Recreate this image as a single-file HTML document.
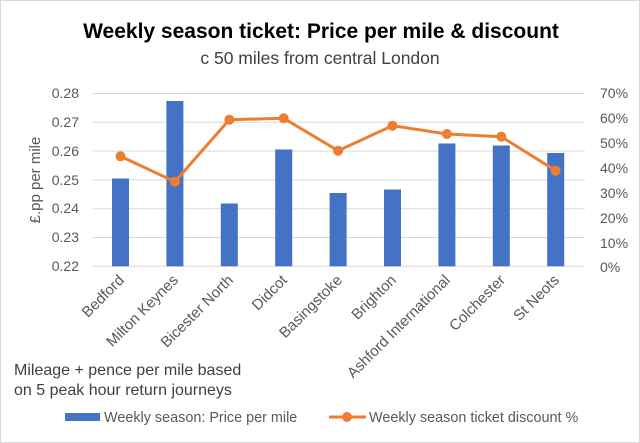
<!DOCTYPE html>
<html><head><meta charset="utf-8"><style>
body{margin:0;background:#fff}
svg{display:block;font-family:"Liberation Sans",sans-serif}
</style></head><body>
<svg width="640" height="443" viewBox="0 0 640 443">
<rect x="0.5" y="0.5" width="639" height="442" fill="#fff" stroke="#d9d9d9"/>
<text x="321" y="38" text-anchor="middle" font-size="21" font-weight="bold" fill="#000">Weekly season ticket: Price per mile &amp; discount</text>
<text x="320" y="64" text-anchor="middle" font-size="17.5" fill="#404040">c 50 miles from central London</text>
<g stroke="#d9d9d9" stroke-width="1">
<line x1="93" x2="585" y1="93.5" y2="93.5"/><line x1="93" x2="585" y1="122.3" y2="122.3"/>
<line x1="93" x2="585" y1="151.1" y2="151.1"/><line x1="93" x2="585" y1="179.9" y2="179.9"/>
<line x1="93" x2="585" y1="208.7" y2="208.7"/><line x1="93" x2="585" y1="237.5" y2="237.5"/>
<line x1="93" x2="585" y1="266.3" y2="266.3"/>
</g>
<g font-size="14" fill="#595959" text-anchor="end">
<text x="79" y="98">0.28</text><text x="79" y="127">0.27</text><text x="79" y="156">0.26</text>
<text x="79" y="185">0.25</text><text x="79" y="213">0.24</text><text x="79" y="242">0.23</text><text x="79" y="271">0.22</text>
</g>
<g font-size="14" fill="#595959" text-anchor="start">
<text x="600" y="98">70%</text><text x="600" y="123">60%</text><text x="600" y="148">50%</text>
<text x="600" y="173">40%</text><text x="600" y="198">30%</text><text x="600" y="223">20%</text>
<text x="600" y="248">10%</text><text x="600" y="272">0%</text>
</g>
<text transform="translate(40,180) rotate(-90)" text-anchor="middle" font-size="15" fill="#595959">£.pp per mile</text>
<g fill="#4472c4">
<rect x="112" y="178.5" width="17" height="87.8"/>
<rect x="166.4" y="101" width="17" height="165.3"/>
<rect x="220.8" y="203.5" width="17" height="62.8"/>
<rect x="275.2" y="149.5" width="17" height="116.8"/>
<rect x="329.6" y="193" width="17" height="73.3"/>
<rect x="384" y="189.5" width="17" height="76.8"/>
<rect x="438.4" y="143.5" width="17" height="122.8"/>
<rect x="492.8" y="145.5" width="17" height="120.8"/>
<rect x="547.2" y="153" width="17" height="113.3"/>
</g>
<polyline fill="none" stroke="#ed7d31" stroke-width="3" stroke-linejoin="round" points="120.5,156.3 174.9,181.7 229.3,119.7 283.7,118.3 338.1,150.7 392.5,125.7 446.9,134 501.3,136.7 555.7,170.7"/>
<g fill="#ed7d31">
<circle cx="120.5" cy="156.3" r="5"/><circle cx="174.9" cy="181.7" r="5"/><circle cx="229.3" cy="119.7" r="5"/>
<circle cx="283.7" cy="118.3" r="5"/><circle cx="338.1" cy="150.7" r="5"/><circle cx="392.5" cy="125.7" r="5"/>
<circle cx="446.9" cy="134" r="5"/><circle cx="501.3" cy="136.7" r="5"/><circle cx="555.7" cy="170.7" r="5"/>
</g>
<g font-size="15" fill="#595959" text-anchor="end">
<text transform="translate(125,281) rotate(-45)">Bedford</text>
<text transform="translate(179,281) rotate(-45)">Milton Keynes</text>
<text transform="translate(234,281) rotate(-45)">Bicester North</text>
<text transform="translate(288,281) rotate(-45)">Didcot</text>
<text transform="translate(343,281) rotate(-45)">Basingstoke</text>
<text transform="translate(397,281) rotate(-45)">Brighton</text>
<text transform="translate(451,281) rotate(-45)">Ashford International</text>
<text transform="translate(506,281) rotate(-45)">Colchester</text>
<text transform="translate(560,281) rotate(-45)">St Neots</text>
</g>
<g font-size="16" fill="#404040">
<text x="14" y="375">Mileage + pence per mile based</text>
<text x="14" y="395">on 5 peak hour return journeys</text>
</g>
<rect x="65" y="413" width="35" height="8" fill="#4472c4"/>
<text x="104" y="422" font-size="14.4" fill="#595959">Weekly season: Price per mile</text>
<line x1="329" x2="366" y1="417" y2="417" stroke="#ed7d31" stroke-width="3"/>
<circle cx="347" cy="417" r="5" fill="#ed7d31"/>
<text x="369" y="422" font-size="14.4" fill="#595959">Weekly season ticket discount %</text>
</svg>
</body></html>
